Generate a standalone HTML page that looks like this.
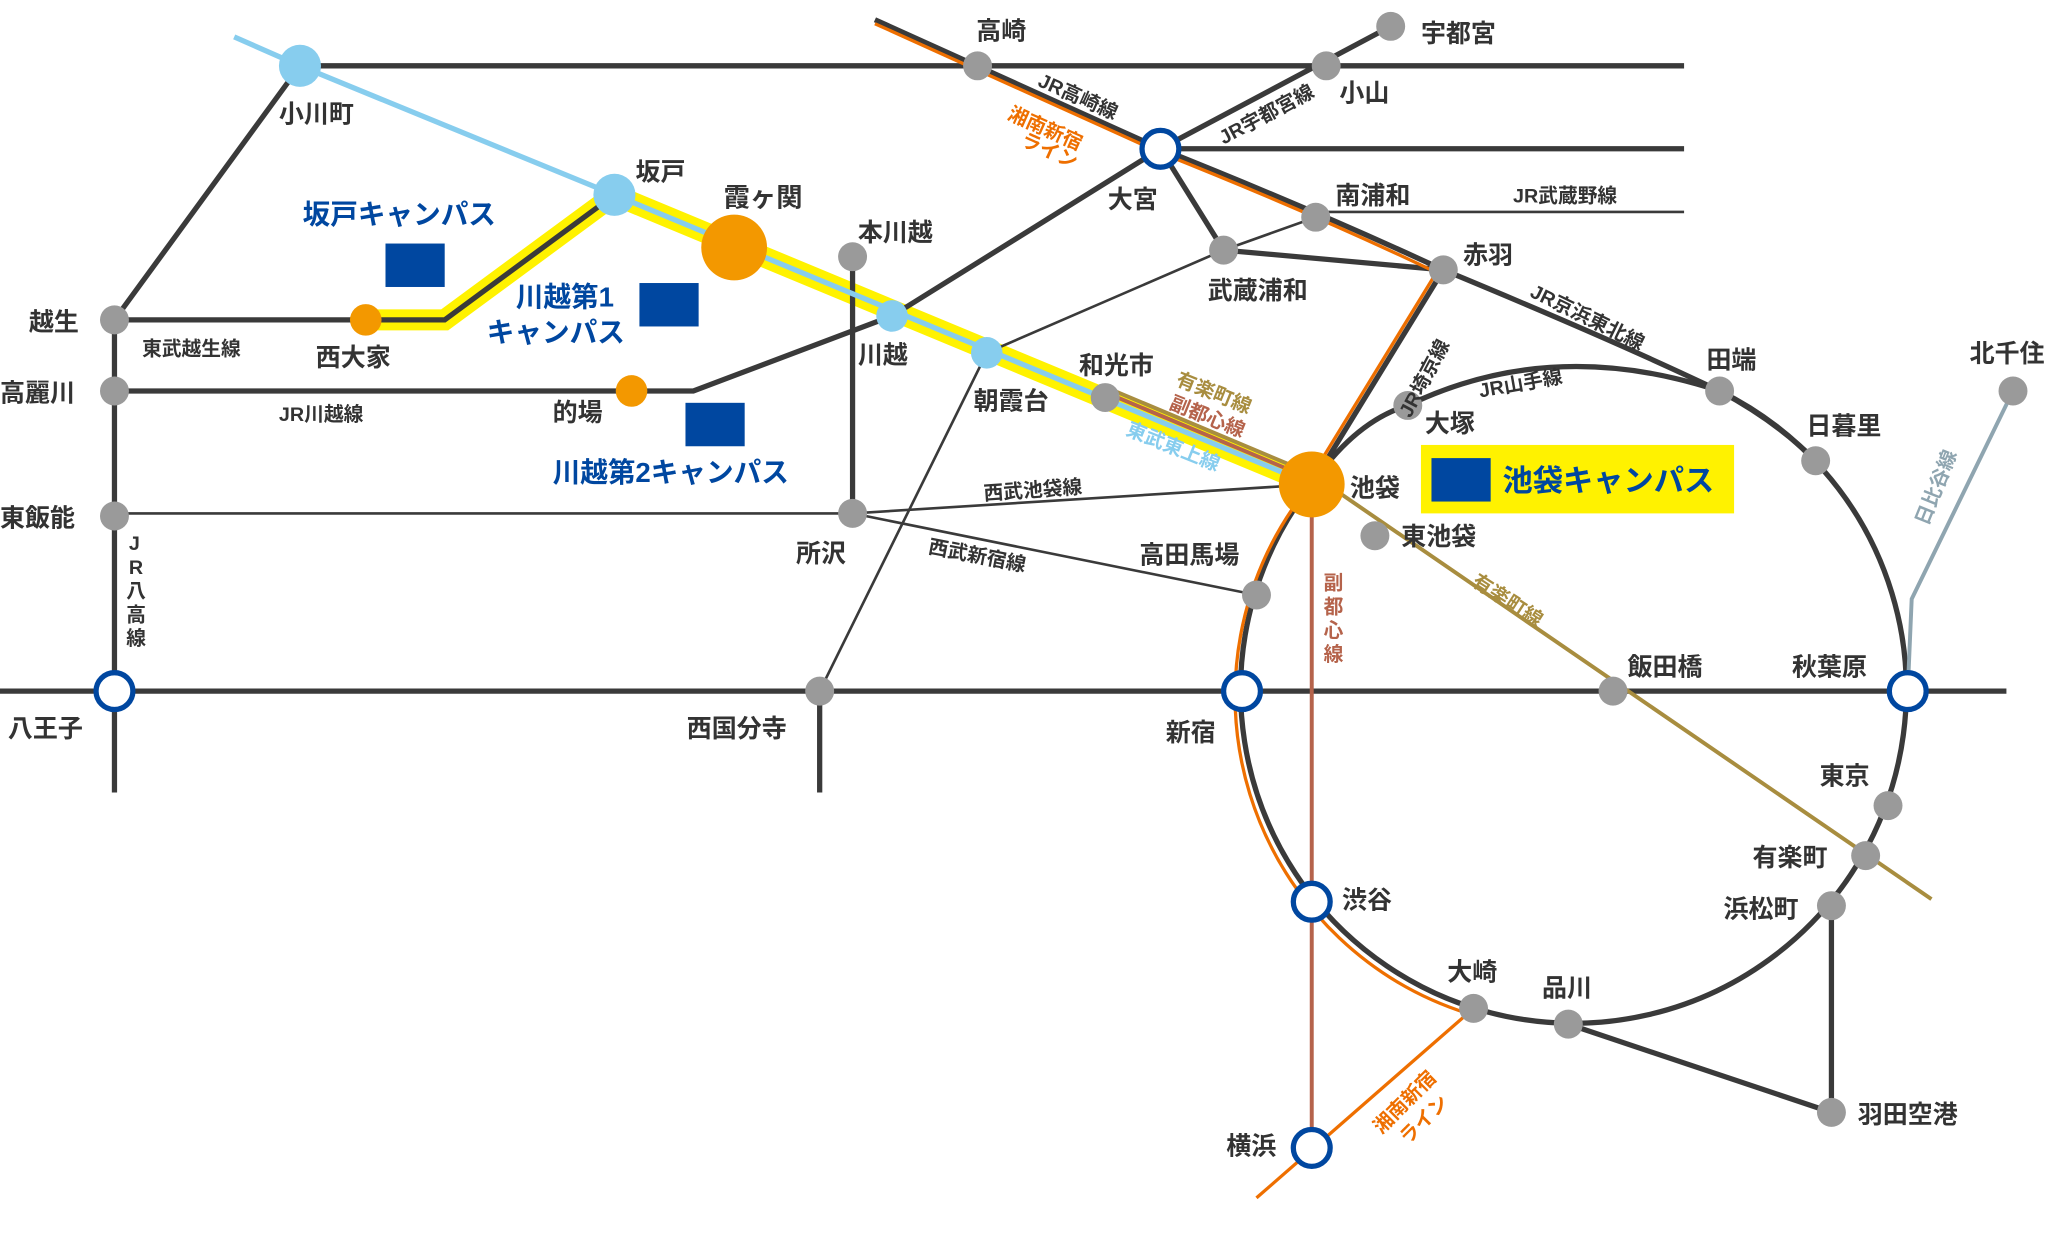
<!DOCTYPE html>
<html><head><meta charset="utf-8"><style>
html,body{margin:0;padding:0;background:#fff;}
svg{display:block}
text{font-family:"Liberation Sans","Noto Sans CJK JP",sans-serif;font-weight:bold;}
.s{font-size:19px;fill:#333}
.l{font-size:15px;fill:#333}
</style></head><body>
<svg width="2063" height="1244" viewBox="0 0 1568 945" preserveAspectRatio="none" xmlns="http://www.w3.org/2000/svg">
<g fill="none" stroke-linecap="butt">
<polyline points="278,243 338,243 467,148 997,368" stroke="#fff200" stroke-width="16"/>
<g stroke="#3a3a3a" stroke-width="4">
<line x1="228" y1="50" x2="1280" y2="50"/>
<line x1="87" y1="243" x2="228" y2="50"/>
<polyline points="87,243 338,243 467,148"/>
<line x1="87" y1="243" x2="87" y2="602"/>
<polyline points="87,297 527,297 678,240 882,113"/>
<line x1="0" y1="525" x2="1525" y2="525"/>
<line x1="623" y1="525" x2="623" y2="602"/>
<line x1="648" y1="195" x2="648" y2="390"/>
<line x1="665" y1="15" x2="882" y2="113"/>
<path d="M882,113 Q1000,160 1097,205"/>
<line x1="882" y1="113" x2="1057" y2="20"/>
<line x1="882" y1="113" x2="1280" y2="113"/>
<polyline points="882,113 930,190 1097,205"/>
<line x1="1097" y1="205" x2="997" y2="368"/>
<path d="M1097,205 Q1230,260 1307,297 Q1350,320 1380,350"/>
<path d="M1307,297 A253,253 0 1 1 997,368"/>
<path d="M997,368 Q1030,320 1070,308 Q1180,255 1307,297"/>
<line x1="1392" y1="688" x2="1392" y2="845"/>
<line x1="1192" y1="778" x2="1392" y2="845"/>
</g>
<g stroke="#3a3a3a" stroke-width="2">
<line x1="87" y1="390" x2="648" y2="390"/>
<line x1="648" y1="390" x2="997" y2="368"/>
<line x1="648" y1="390" x2="955" y2="452"/>
<polyline points="623,525 750,268 930,190 1000,165"/>
<line x1="1000" y1="161" x2="1280" y2="161"/>
</g>
<g stroke="#ee6f00" stroke-width="2.5">
<line x1="665" y1="18" x2="882" y2="116"/>
<path d="M882,116 Q1000,163 1094,208"/>
<line x1="1093" y1="205" x2="993" y2="368"/>
<path d="M993,372 A253,253 0 0 0 1116,770"/>
<line x1="955" y1="910" x2="1120" y2="766"/>
</g>
<line x1="997" y1="368" x2="997" y2="872" stroke="#b5634b" stroke-width="3"/>
<line x1="840" y1="298" x2="997" y2="364" stroke="#b5634b" stroke-width="3"/>
<polyline points="840,294 997,360 1468,683" stroke="#a88d3f" stroke-width="3"/>
<polyline points="1530,297 1453,455 1450,525" stroke="#8fa5b0" stroke-width="3"/>
<polyline points="178,28 228,50 467,148 997,368" stroke="#87cdee" stroke-width="4"/>
</g>
<g fill="#9a9a9a">
<circle cx="87" cy="243" r="11"/><circle cx="87" cy="297" r="11"/><circle cx="87" cy="392" r="11"/>
<circle cx="648" cy="195" r="11"/><circle cx="648" cy="390" r="11"/><circle cx="623" cy="525" r="11"/>
<circle cx="743" cy="50" r="11"/><circle cx="1008" cy="50" r="11"/><circle cx="1057" cy="20" r="11"/>
<circle cx="1000" cy="165" r="11"/><circle cx="930" cy="190" r="11"/><circle cx="1097" cy="205" r="11"/>
<circle cx="840" cy="302" r="11"/><circle cx="955" cy="452" r="11"/>
<circle cx="1070" cy="308" r="11"/><circle cx="1045" cy="407" r="11"/><circle cx="1307" cy="297" r="11"/>
<circle cx="1380" cy="350" r="11"/><circle cx="1530" cy="297" r="11"/><circle cx="1226" cy="525" r="11"/>
<circle cx="1435" cy="612" r="11"/><circle cx="1418" cy="650" r="11"/><circle cx="1392" cy="688" r="11"/>
<circle cx="1120" cy="766" r="11"/><circle cx="1192" cy="778" r="11"/><circle cx="1392" cy="845" r="11"/>
</g>
<g fill="#87cdee"><circle cx="228" cy="50" r="16"/><circle cx="467" cy="148" r="16"/><circle cx="678" cy="240" r="12"/><circle cx="750" cy="268" r="12"/></g>
<g fill="#f39800"><circle cx="558" cy="188" r="25"/><circle cx="997" cy="368" r="25"/><circle cx="278" cy="243" r="12"/><circle cx="480" cy="297" r="12"/></g>
<g fill="#fff" stroke="#0047a0" stroke-width="4">
<circle cx="882" cy="113" r="14"/><circle cx="87" cy="525" r="14"/><circle cx="944" cy="525" r="14"/>
<circle cx="1450" cy="525" r="14"/><circle cx="997" cy="685" r="14"/><circle cx="997" cy="872" r="14"/>
</g>
<rect x="1080" y="338" width="238" height="52" fill="#fff200"/>
<g fill="#0047a0"><rect x="293" y="185" width="45" height="33"/><rect x="486" y="215" width="45" height="33"/><rect x="521" y="306" width="45" height="33"/><rect x="1088" y="348" width="45" height="33"/></g>
<g fill="#0047a0">
<text x="230" y="170" style="font-size:21px">坂戸キャンパス</text>
<text x="392" y="233" style="font-size:21px">川越第1</text>
<text x="370" y="260" style="font-size:21px">キャンパス</text>
<text x="420" y="366" style="font-size:21px">川越第2キャンパス</text>
<text x="1142" y="373" style="font-size:23px">池袋キャンパス</text>
</g>
<g>
<text class="s" x="212" y="93">小川町</text>
<text class="s" x="483" y="137">坂戸</text>
<text class="s" x="550" y="157" style="font-size:20px">霞ヶ関</text>
<text class="s" x="22" y="251">越生</text>
<text class="s" x="240" y="278">西大家</text>
<text class="s" x="0" y="305">高麗川</text>
<text class="s" x="420" y="320">的場</text>
<text class="s" x="0" y="400">東飯能</text>
<text class="s" x="6" y="560">八王子</text>
<text class="s" x="652" y="183">本川越</text>
<text class="s" x="652" y="276">川越</text>
<text class="s" x="740" y="311">朝霞台</text>
<text class="s" x="605" y="427">所沢</text>
<text class="s" x="522" y="560">西国分寺</text>
<text class="s" x="742" y="30">高崎</text>
<text class="s" x="1080" y="32">宇都宮</text>
<text class="s" x="1018" y="77">小山</text>
<text class="s" x="842" y="158">大宮</text>
<text class="s" x="1015" y="155">南浦和</text>
<text class="s" x="918" y="227">武蔵浦和</text>
<text class="s" x="1112" y="200">赤羽</text>
<text class="s" x="820" y="284">和光市</text>
<text class="s" x="1026" y="377">池袋</text>
<text class="s" x="1083" y="328">大塚</text>
<text class="s" x="1065" y="414">東池袋</text>
<text class="s" x="866" y="428">高田馬場</text>
<text class="s" x="1297" y="280">田端</text>
<text class="s" x="1373" y="330">日暮里</text>
<text class="s" x="1497" y="275">北千住</text>
<text class="s" x="1237" y="513">飯田橋</text>
<text class="s" x="1362" y="513">秋葉原</text>
<text class="s" x="886" y="563">新宿</text>
<text class="s" x="1383" y="596">東京</text>
<text class="s" x="1332" y="658">有楽町</text>
<text class="s" x="1310" y="697">浜松町</text>
<text class="s" x="1020" y="690">渋谷</text>
<text class="s" x="1100" y="745">大崎</text>
<text class="s" x="1172" y="757">品川</text>
<text class="s" x="1412" y="853">羽田空港</text>
<text class="s" x="932" y="877">横浜</text>
</g>
<g>
<text class="l" x="108" y="270">東武越生線</text>
<text class="l" x="212" y="320">JR川越線</text>
<text class="l" x="748" y="380" transform="rotate(-4 748 380)">西武池袋線</text>
<text class="l" x="705" y="420" transform="rotate(11 705 420)">西武新宿線</text>
<text class="l" x="1150" y="154">JR武蔵野線</text>
<text class="l" x="1125" y="302" transform="rotate(-10 1125 302)">JR山手線</text>
<text class="l" x="788" y="65" transform="rotate(24 788 65)">JR高崎線</text>
<text class="l" x="930" y="110" transform="rotate(-28 930 110)">JR宇都宮線</text>
<text class="l" x="1162" y="225" transform="rotate(26 1162 225)">JR京浜東北線</text>
<text class="l" x="1072" y="318" transform="rotate(-62 1072 318)">JR埼京線</text>
<text class="l" x="1118" y="444" transform="rotate(33 1118 444)" style="fill:#a88d3f">有楽町線</text>
<text class="l" x="893" y="292" transform="rotate(22 893 292)" style="fill:#a88d3f">有楽町線</text>
<text class="l" x="888" y="310" transform="rotate(22 888 310)" style="fill:#b5634b">副都心線</text>
<text class="l" x="855" y="330" transform="rotate(22 855 330)" style="fill:#87cdee">東武東上線</text>
<text class="l" x="765" y="90" transform="rotate(24 765 90)" style="fill:#ee6f00">湘南新宿</text>
<text class="l" x="775" y="110" transform="rotate(24 775 110)" style="fill:#ee6f00">ライン</text>
<text class="l" x="1050" y="862" transform="rotate(-45 1050 862)" style="fill:#ee6f00">湘南新宿</text>
<text class="l" x="1070" y="870" transform="rotate(-45 1070 870)" style="fill:#ee6f00">ライン</text>
<text class="l" x="1465" y="400" transform="rotate(-68 1465 400)" style="fill:#8fa5b0">日比谷線</text>
<text class="l" x="1006" y="448" style="fill:#b5634b">副</text>
<text class="l" x="1006" y="466" style="fill:#b5634b">都</text>
<text class="l" x="1006" y="484" style="fill:#b5634b">心</text>
<text class="l" x="1006" y="502" style="fill:#b5634b">線</text>
<text class="l" x="98" y="418">J</text><text class="l" x="98" y="436">R</text>
<text class="l" x="96" y="454">八</text><text class="l" x="96" y="472">高</text><text class="l" x="96" y="490">線</text>
</g>
</svg>
</body></html>
